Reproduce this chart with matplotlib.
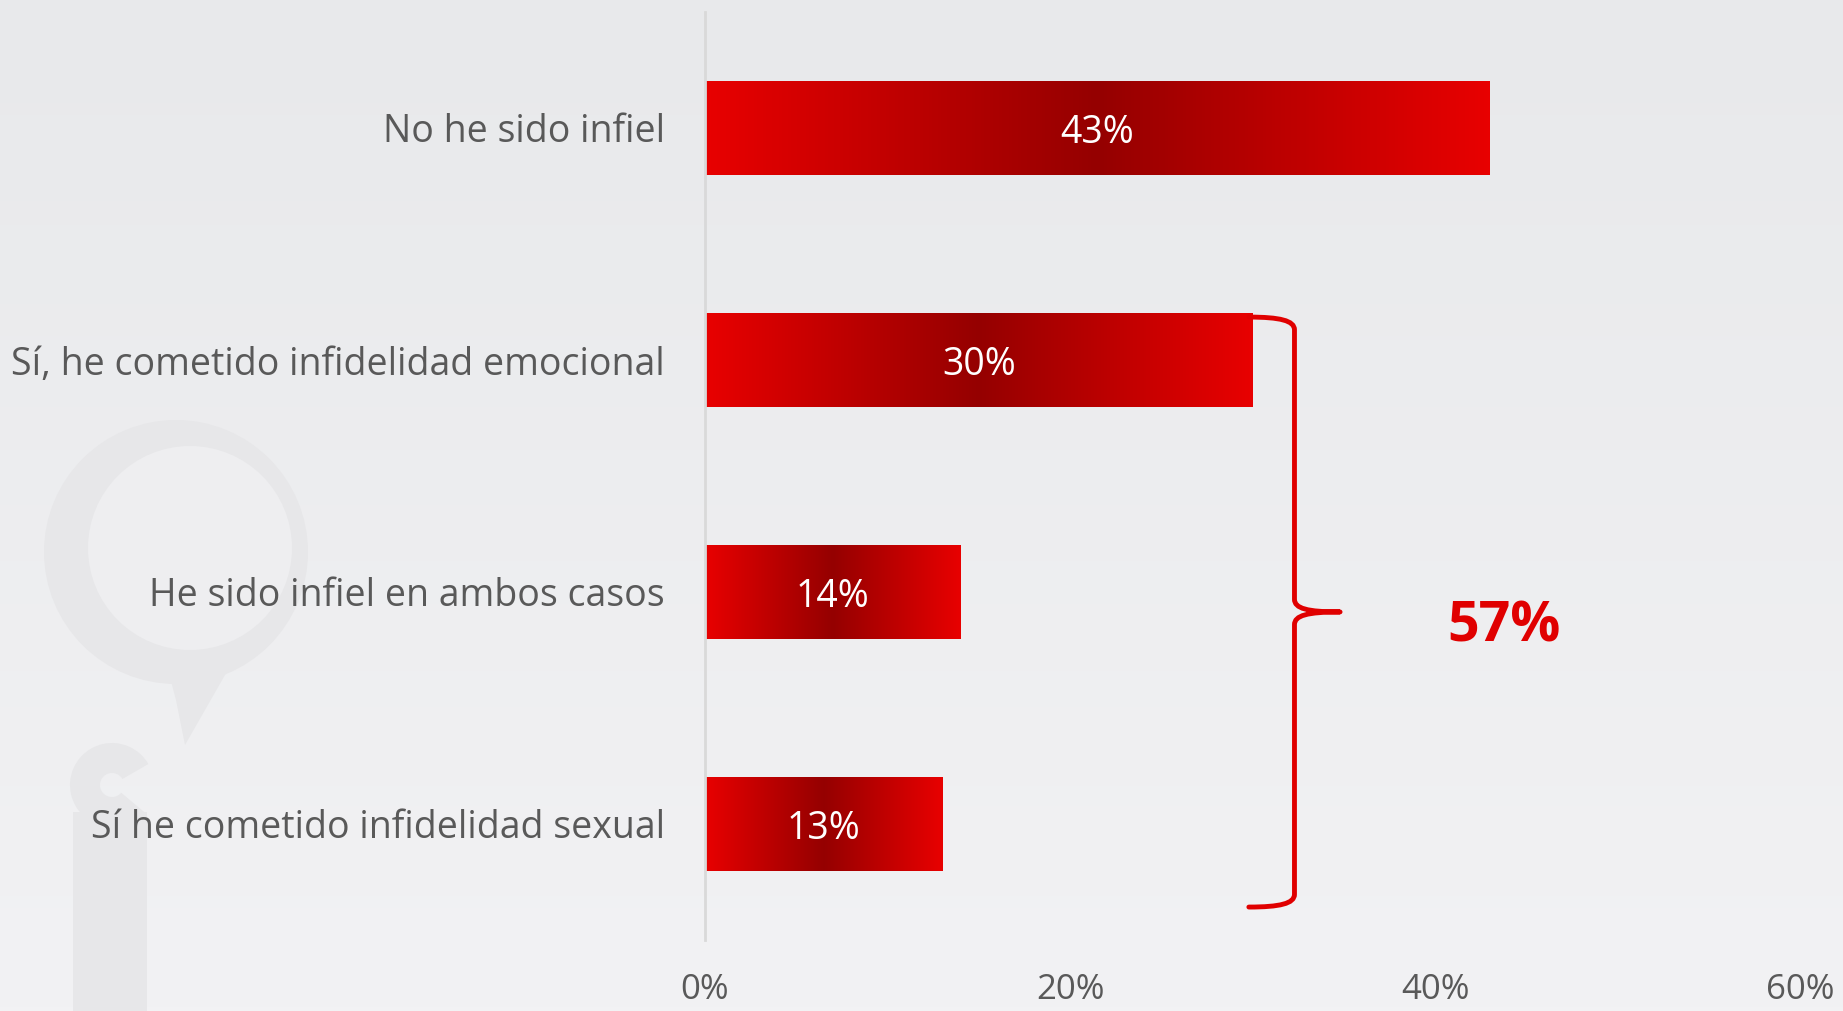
import numpy as np
import matplotlib
matplotlib.use("Agg")
import matplotlib.pyplot as plt
from matplotlib.colors import LinearSegmentedColormap
from matplotlib.path import Path
from matplotlib.patches import PathPatch, Circle, Rectangle, Wedge, Polygon

categories = ["No he sido infiel",
              "Sí, he cometido infidelidad emocional",
              "He sido infiel en ambos casos",
              "Sí he cometido infidelidad sexual"]
values = [43, 30, 14, 13]
xticks = [0, 20, 40, 60]

red = "#E00000"
grey_txt = "#595959"

fig = plt.figure(figsize=(18.43, 10.11), dpi=100)

# background gradient + faint watermark
bg = fig.add_axes([0, 0, 1, 1], zorder=-10)
grad = np.linspace(0, 1, 256).reshape(-1, 1)
bg_cmap = LinearSegmentedColormap.from_list("bg", ["#E8E9EB", "#F2F2F4"])
bg.imshow(grad, cmap=bg_cmap, aspect="auto", extent=[0, 1843, 1011, 0])
bg.set_xlim(0, 1843)
bg.set_ylim(1011, 0)
bg.axis("off")
wm = "#E7E7E9"
hole = "#EEEEF0"
bg.add_patch(Polygon([(160, 640), (245, 640), (185, 745), (176, 700)], color=wm, lw=0))
bg.add_patch(Circle((176, 552), 132, color=wm, lw=0))
bg.add_patch(Circle((190, 548), 102, color=hole, lw=0))
bg.add_patch(Wedge((112, 785), 42, 40, 330, width=30, color=wm, lw=0))
bg.add_patch(Rectangle((73, 812), 74, 210, color=wm, lw=0))

ax = fig.add_axes([705 / 1843, 71 / 1011, 1095 / 1843, 928 / 1011])
ax.set_facecolor("none")

bar_cmap = LinearSegmentedColormap.from_list("bar", ["#E80000", "#950000", "#E80000"])
hgrad = np.linspace(0, 1, 256).reshape(1, -1)
h = 0.405
for i, v in enumerate(values):
    ax.imshow(hgrad, cmap=bar_cmap, aspect="auto",
              extent=[0, v, i + h / 2, i - h / 2], zorder=2)
    ax.text(v / 2, i + 0.02, f"{v}%", color="white", ha="center", va="center",
            fontsize=27, family="Open Sans", zorder=3)
ax.set_xlim(0, 60)
ax.set_ylim(len(categories) - 0.5, -0.5)

ax.set_yticks(range(len(categories)))
ax.set_yticklabels(categories, fontsize=27, color=grey_txt, family="Open Sans")
ax.set_xticks(xticks)
ax.set_xticklabels([f"{t}%" for t in xticks], fontsize=25, color=grey_txt,
                   family="Open Sans")
ax.tick_params(axis="both", length=0)
ax.tick_params(axis="y", pad=29)
ax.tick_params(axis="x", pad=24)
for s in ["top", "right", "bottom"]:
    ax.spines[s].set_visible(False)
ax.spines["left"].set_color("#D9D9D9")
ax.spines["left"].set_linewidth(2)

# brace around the "infiel" answers
bx0, bx1, bx2 = 29.8, 32.3, 34.8
yt, ym, yb = 0.815, 2.086, 3.358
verts = [(bx0, yt), (31.5, yt), (bx1, yt + 0.015), (bx1, yt + 0.055),
         (bx1, ym - 0.055),
         (bx1, ym - 0.015), (33.0, ym), (bx2, ym),
         (33.0, ym), (bx1, ym + 0.015), (bx1, ym + 0.055),
         (bx1, yb - 0.055),
         (bx1, yb - 0.015), (31.5, yb), (bx0, yb)]
codes = [Path.MOVETO, Path.CURVE4, Path.CURVE4, Path.CURVE4,
         Path.LINETO,
         Path.CURVE4, Path.CURVE4, Path.CURVE4,
         Path.CURVE4, Path.CURVE4, Path.CURVE4,
         Path.LINETO,
         Path.CURVE4, Path.CURVE4, Path.CURVE4]
ax.add_patch(PathPatch(Path(verts, codes), fill=False, edgecolor=red, lw=3.5,
                       capstyle="round", joinstyle="round", zorder=4, clip_on=False))

ax.text(43.8, 2.15, f"{sum(values[1:])}%", color=red, fontsize=40,
        fontweight="bold", family="Open Sans", ha="center", va="center")

fig.savefig("out.png", dpi=100)
